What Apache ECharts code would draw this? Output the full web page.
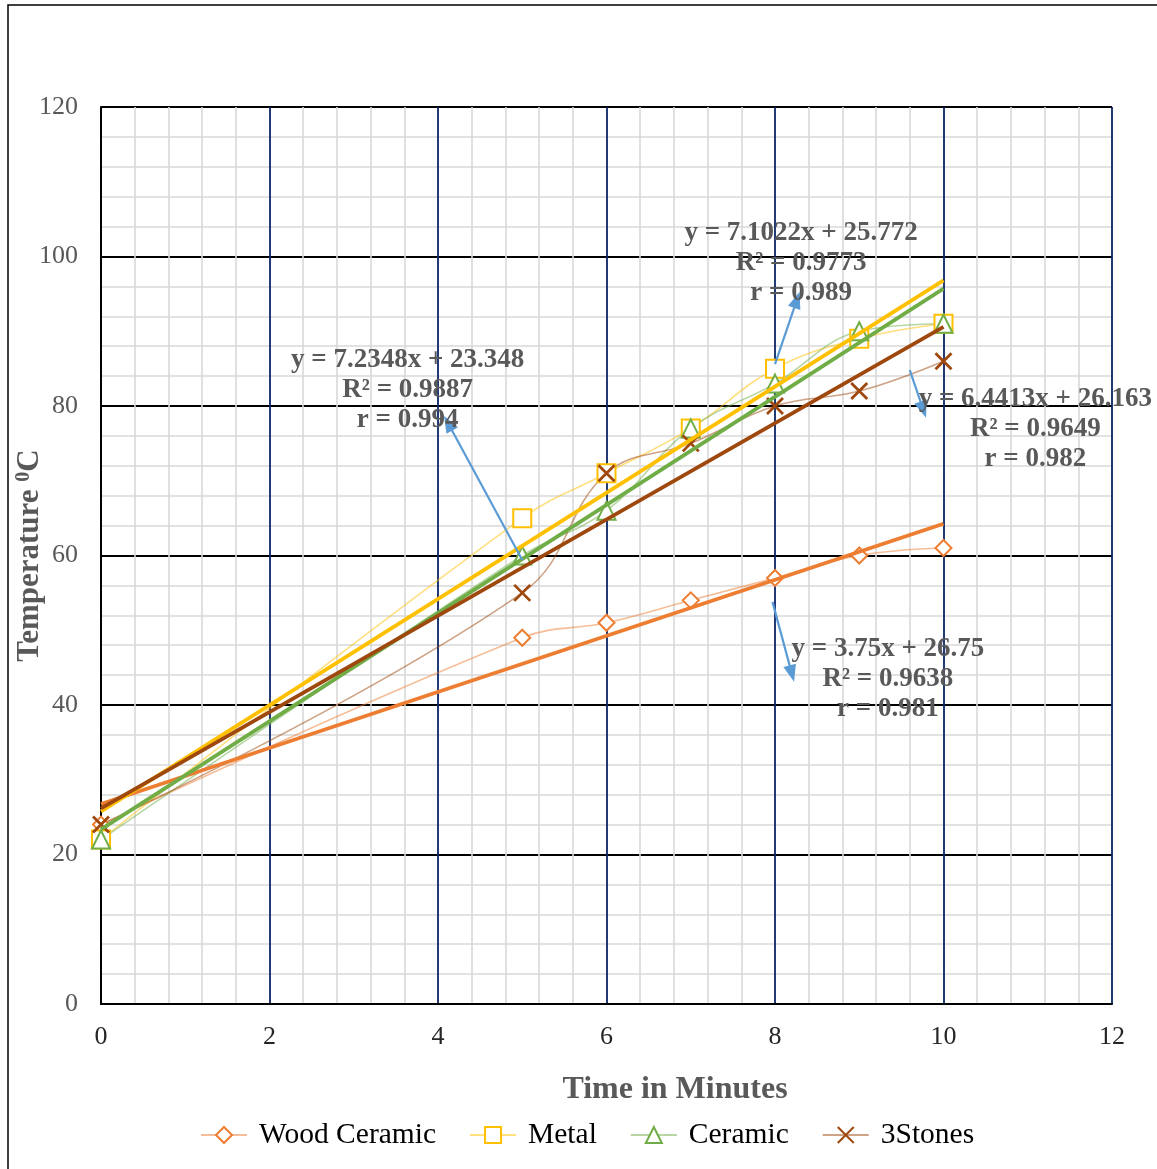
<!DOCTYPE html>
<html>
<head>
<meta charset="utf-8">
<script src="https://cdn.jsdelivr.net/npm/echarts@6/dist/echarts.min.js"></script>
<style>
  html, body { margin: 0; padding: 0; background: #ffffff; }
  #chart { width: 1157px; height: 1169px; }
</style>
</head>
<body>
<div id="chart"></div>
<script>
// Heating time (minutes) and measured temperatures (°C)
const minutes = [0, 5, 6, 7, 8, 9, 10];
const woodCeramic = [24, 49, 51, 54, 57, 60, 61];
const metal = [22, 65, 71, 77, 85, 89, 91];
const ceramic = [22, 60, 66, 77, 83, 90, 91];
const threeStones = [24, 55, 71, 75, 80, 82, 86];
const seriesNames = ['Wood Ceramic', 'Metal', 'Ceramic', '3Stones'];

// Linear trendline fits, in the same order as seriesNames
const slopes = [3.75, 7.1022, 7.2348, 6.4413];
const intercepts = [26.75, 25.772, 23.348, 26.163];
const rSquared = ['0.9638', '0.9773', '0.9887', '0.9649'];
const rValues = ['0.981', '0.989', '0.994', '0.982'];

// Axis ticks
const xTicks = [0, 2, 4, 6, 8, 10, 12];
const yTicks = [0, 20, 40, 60, 80, 100, 120];

const colors = ['#ED7D31', '#FFC000', '#70AD47', '#9E480E'];
const symbols = ['emptyDiamond', 'emptyRect', 'emptyTriangle', 'path://M0 0L10 10M10 0L0 10'];
const symbolSizes = [16, 18, 18, 16];
const FONT = '"Liberation Serif", "Times New Roman", serif';

// Where each fit label sits (data coordinates) and where its callout arrow runs
const labelAnchors = [[9.34, 43.5], [8.31, 99.1], [3.64, 82.1], [11.09, 76.9]];
const arrows = [
  [[7.97, 53.8], [8.20, 44.2]],
  [[8.00, 85.6], [8.26, 94.2]],
  [[5.00, 59.4], [4.12, 77.7]],
  [[9.60, 84.8], [9.76, 79.5]]
];

const allValues = [woodCeramic, metal, ceramic, threeStones];

const dataSeries = seriesNames.map((name, i) => ({
  name: name,
  type: 'line',
  smooth: 0.4,
  data: minutes.map((m, k) => [m, allValues[i][k]]),
  symbol: symbols[i],
  symbolSize: symbolSizes[i],
  lineStyle: { color: colors[i], width: 1.6, opacity: 0.5 },
  itemStyle: { color: colors[i], borderColor: colors[i], borderWidth: 2.8 },
  z: 3
}));

const trendSeries = seriesNames.map((name, i) => {
  const x0 = minutes[0], x1 = minutes[minutes.length - 1];
  return {
    name: name + ' trend',
    type: 'line',
    data: [[x0, slopes[i] * x0 + intercepts[i]], [x1, slopes[i] * x1 + intercepts[i]]],
    symbol: 'none',
    lineStyle: { color: colors[i], width: 3.8 },
    z: 4,
    silent: true
  };
});

const arrowSeries = {
  name: 'callouts',
  type: 'line',
  data: [],
  symbol: 'none',
  z: 6,
  silent: true,
  markLine: {
    silent: true,
    symbol: ['none', 'triangle'],
    symbolSize: [13, 17],
    label: { show: false },
    lineStyle: { color: '#5B9BD5', width: 2.2, type: 'solid' },
    data: arrows.map(a => [{ coord: a[0] }, { coord: a[1] }])
  }
};

const chart = echarts.init(document.getElementById('chart'), null, { renderer: 'canvas' });

const option = {
  animation: false,
  backgroundColor: '#ffffff',
  textStyle: { fontFamily: FONT },
  grid: { left: 101, right: 45, top: 107, bottom: 165, containLabel: false, outerBoundsMode: 'none' },
  legend: {
    data: seriesNames,
    left: 195,
    top: 1115,
    itemWidth: 46,
    itemHeight: 20,
    itemGap: 33,
    textStyle: { fontFamily: FONT, fontSize: 29.5, color: '#000000', padding: [0, 0, 0, 7] }
  },
  xAxis: {
    type: 'value',
    min: xTicks[0],
    max: xTicks[xTicks.length - 1],
    interval: xTicks[1] - xTicks[0],
    name: 'Time in Minutes',
    nameLocation: 'middle',
    nameGap: 70,
    nameMoveOverlap: false,
    nameTextStyle: { fontFamily: FONT, fontSize: 32, fontWeight: 'bold', color: '#595959', padding: [0, 0, 0, 137] },
    axisLine: { show: true, onZero: false, lineStyle: { color: '#000000', width: 2 } },
    axisTick: { show: false },
    axisLabel: { fontFamily: FONT, fontSize: 26, color: '#262626', margin: 20 },
    splitLine: { show: true, lineStyle: { color: '#0B2566', width: 1.8 } },
    minorTick: { show: false, splitNumber: 5 },
    minorSplitLine: { show: true, lineStyle: { color: '#D9D9D9', width: 1.6 } }
  },
  yAxis: {
    type: 'value',
    min: yTicks[0],
    max: yTicks[yTicks.length - 1],
    interval: yTicks[1] - yTicks[0],
    name: 'Temperature {s|0}C',
    nameLocation: 'middle',
    nameRotate: 90,
    nameGap: 55,
    nameMoveOverlap: false,
    nameTextStyle: {
      fontFamily: FONT, fontSize: 31, fontWeight: 'bold', color: '#595959',
      rich: { s: { fontFamily: FONT, fontSize: 20, fontWeight: 'bold', color: '#595959', verticalAlign: 'top', padding: [0, 0, 12, 0] } }
    },
    axisLine: { show: true, onZero: false, lineStyle: { color: '#000000', width: 2 } },
    axisTick: { show: false },
    axisLabel: { fontFamily: FONT, fontSize: 26, color: '#595959', margin: 23 },
    splitLine: { show: true, lineStyle: { color: '#000000', width: 1.8 } },
    minorTick: { show: false, splitNumber: 5 },
    minorSplitLine: { show: true, lineStyle: { color: '#D9D9D9', width: 1.6 } }
  },
  series: dataSeries.concat(trendSeries, [arrowSeries])
};

chart.setOption(option);

// Fit equations, R² and r, drawn as text blocks beside their arrows
const fitLabels = seriesNames.map((name, i) => {
  const p = chart.convertToPixel({ gridIndex: 0 }, labelAnchors[i]);
  return {
    type: 'text',
    x: p[0],
    y: p[1],
    z: 5,
    style: {
      text: 'y = ' + slopes[i] + 'x + ' + intercepts[i] + '\nR² = ' + rSquared[i] + '\nr = ' + rValues[i],
      font: 'bold 27px ' + FONT,
      fill: '#595959',
      align: 'center',
      verticalAlign: 'middle',
      lineHeight: 30
    }
  };
});

const frame = {
  type: 'rect',
  z: 0,
  shape: { x: 8, y: 5, width: 1300, height: 1300 },
  style: { fill: 'none', stroke: '#000000', lineWidth: 1.5 }
};

chart.setOption({ graphic: [frame].concat(fitLabels) });
</script>
</body>
</html>
